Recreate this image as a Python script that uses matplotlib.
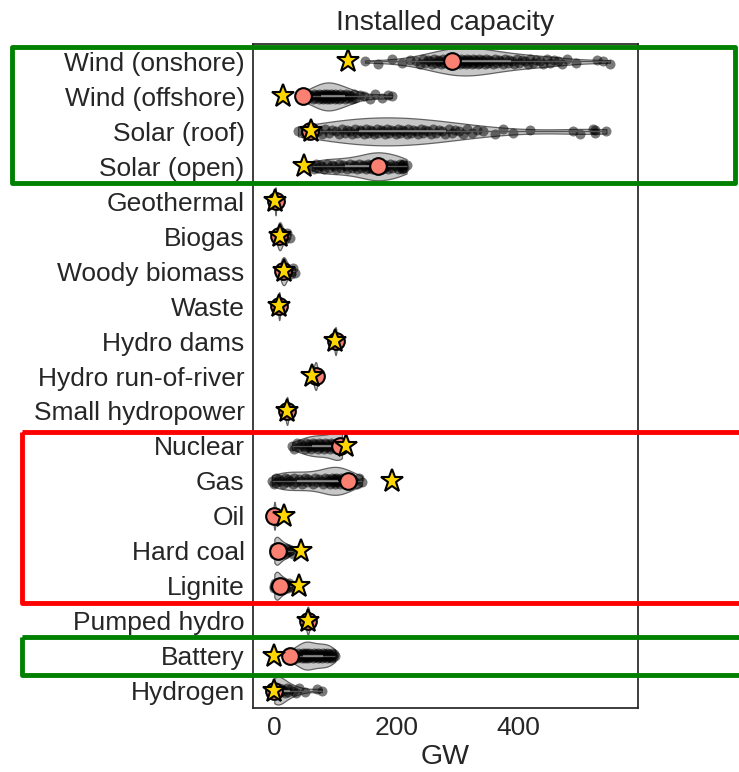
import numpy as np
import matplotlib
matplotlib.use('Agg')
import matplotlib.pyplot as plt
from matplotlib.patches import Rectangle

# ── data (GW) ────────────────────────────────────────────────────────────────
categories = ['Wind (onshore)', 'Wind (offshore)', 'Solar (roof)', 'Solar (open)',
              'Geothermal', 'Biogas', 'Woody biomass', 'Waste', 'Hydro dams',
              'Hydro run-of-river', 'Small hydropower', 'Nuclear', 'Gas', 'Oil',
              'Hard coal', 'Lignite', 'Pumped hydro', 'Battery', 'Hydrogen']

wind_onshore = [149, 170, 193, 210, 223, 232, 239, 244, 248, 252, 255, 259, 262, 265,
                268, 271, 274, 277, 279, 282, 284, 286, 288, 290, 292, 294, 296, 298,
                300, 302, 303, 305, 307, 309, 311, 313, 315, 317, 318, 320, 322, 324,
                326, 328, 330, 332, 334, 336, 338, 341, 343, 346, 348, 351, 353, 356,
                359, 362, 365, 369, 372, 376, 379, 383, 386, 390, 394, 398, 402, 407,
                411, 416, 420, 425, 430, 436, 441, 447, 452, 459, 466, 473, 480, 496,
                529, 539, 551]
wind_offshore = [45, 49, 52, 55, 58, 61, 63, 65, 67, 69, 71, 73, 74, 76, 77, 79, 80, 81,
                 82, 84, 85, 86, 87, 88, 89, 91, 92, 93, 94, 96, 97, 99, 100, 102, 103,
                 105, 106, 108, 110, 112, 114, 116, 118, 121, 123, 126, 128, 131, 133,
                 140, 148, 157, 166, 176, 187, 193]
solar_roof = [39, 50, 55, 62, 66, 72, 78, 84, 90, 95, 101, 106, 111, 116, 120, 124, 128,
              132, 136, 140, 143, 147, 150, 154, 157, 161, 164, 168, 171, 175, 178, 182,
              185, 189, 192, 196, 199, 203, 206, 210, 213, 217, 220, 224, 228, 232, 236,
              240, 244, 248, 252, 257, 261, 266, 270, 275, 280, 286, 291, 297, 303, 310,
              317, 325, 332, 343, 362, 375, 392, 420, 490, 502, 523, 526, 526, 545]
solar_open = [62, 65, 68, 72, 75, 78, 82, 86, 90, 94, 98, 102, 106, 110, 113, 117, 120,
              124, 127, 130, 133, 136, 139, 142, 145, 148, 150, 153, 155, 157, 159, 161,
              163, 165, 166, 168, 169, 171, 172, 174, 175, 177, 178, 180, 182, 185, 187,
              190, 193, 197, 200, 203, 206, 209, 209, 210, 210, 211, 213, 217]
geothermal = [1.0, 1.5, 2.0, 2.0, 2.5, 3.0]
biogas = [5, 6, 7, 8, 8, 9, 9, 10, 11, 12, 14, 17, 21, 26]
woody_biomass = [11, 12, 13, 14, 15, 15, 16, 17, 18, 20, 23, 27, 31, 34]
waste = [6, 7, 7, 8, 8, 8, 9, 9, 10]
hydro_dams = [98, 99, 100, 100, 101, 101, 102, 103]
hydro_ror = [64, 65, 66, 67, 68, 68, 69, 70, 71]
small_hydro = [18, 19, 20, 21, 21, 22, 23]
nuclear = [29, 33, 37, 41, 44, 47, 50, 52, 55, 57, 59, 61, 63, 65, 67, 69, 71, 73, 75,
           77, 79, 81, 83, 85, 87, 89, 91, 93, 95, 97, 99, 101, 103, 105, 106, 107, 108,
           109, 110, 110, 111, 111, 111, 111, 111, 111]
gas = [-4, -1, 2, 5, 8, 11, 14, 17, 20, 23, 26, 30, 33, 36, 40, 43, 46, 50, 53, 56, 60,
       63, 66, 70, 73, 76, 80, 83, 86, 88, 90, 92, 94, 96, 98, 99, 100, 101, 102, 103,
       105, 107, 109, 111, 113, 116, 118, 121, 124, 127, 131, 135, 139, 144]
oil = [-2, -1, 0, 0, 0, 1, 1, 2, 3]
hard_coal = [0, 0, 0, 1, 1, 2, 3, 4, 5, 6, 7, 9, 10, 12, 13, 15, 17, 19, 21, 24, 26, 31]
lignite = [0, 0, 1, 1, 2, 3, 4, 5, 6, 8, 9, 11, 13, 15, 17, 19, 22, 24, 29]
pumped_hydro = [52, 53, 54, 55, 55, 56, 57, 58]
battery = [23, 26, 28, 31, 33, 35, 37, 39, 41, 43, 44, 46, 47, 48, 49, 50, 51, 52, 53,
           54, 55, 56, 57, 59, 60, 62, 63, 65, 66, 68, 69, 71, 72, 74, 75, 77, 78, 80,
           81, 83, 84, 86, 87, 89, 90, 92, 93, 95, 96, 98, 100]
hydrogen = [0, 0, 0, 0, 1, 1, 2, 2, 3, 4, 5, 6, 8, 10, 12, 14, 17, 20, 23, 26, 30, 35,
            40, 51, 70, 78]

samples = [wind_onshore, wind_offshore, solar_roof, solar_open, geothermal, biogas,
           woody_biomass, waste, hydro_dams, hydro_ror, small_hydro, nuclear, gas, oil,
           hard_coal, lignite, pumped_hydro, battery, hydrogen]

circle_gw = [291, 47, 59, 171, 2, 8, 15, 8, 101, 68, 21, 108, 121, 0, 6, 9, 55, 26, 0]
star_gw = [121, 15, 60, 48, 1.6, 10, 16, 8, 100, 62, 20, 117, 193, 16, 43, 41, 55, 0, 0]

# highlight boxes: (top row edge, bottom row edge, left GW, right GW, colour)
boxes = [(-0.42, 3.47, -430, 756, 'green'),
         (10.61, 15.50, -415, 800, 'red'),
         (16.46, 17.57, -415, 800, 'green')]

# fixed strip offsets (row units) so the dots spread a little vertically
strip_offsets = np.array([0.0, 0.08, -0.08, 0.04, -0.04])

# ── plot ─────────────────────────────────────────────────────────────────────
plt.rcParams['font.family'] = ['Liberation Sans', 'DejaVu Sans']
txt = '#262626'

fig = plt.figure(figsize=(7.39, 7.72), dpi=100)
ax = fig.add_axes([253/739, 1 - 708/772, (638 - 253)/739, (708 - 44)/772])

pos = np.arange(len(categories))
vp = ax.violinplot(samples, positions=pos, orientation='horizontal', widths=0.8,
                   showextrema=False)
for body in vp['bodies']:
    body.set_facecolor('#bdbdbd')
    body.set_edgecolor('#4d4d4d')
    body.set_linewidth(0.9)
    body.set_alpha(0.85)

for i, vals in enumerate(samples):
    dy = np.resize(strip_offsets, len(vals))
    ax.scatter(vals, i + dy, s=52, c='k', alpha=0.52, linewidths=0, zorder=3)
    q1, q3 = np.percentile(vals, [25, 75])
    ax.hlines(i, min(vals), max(vals), color='#555555', lw=1.0, zorder=4)
    ax.hlines(i, q1, q3, color='#a0a0a0', lw=1.6, alpha=0.7, zorder=4)

ax.plot(circle_gw, pos, 'o', ms=12, mfc='#fa8072', mec='k', mew=1.5, ls='none', zorder=5)
ax.plot(star_gw, pos, '*', ms=17, mfc='#ffd700', mec='k', mew=1.5, ls='none', zorder=6)

for y0, y1, x0, x1, col in boxes:
    ax.add_patch(Rectangle((x0, y0), x1 - x0, y1 - y0, fill=False, edgecolor=col,
                           lw=3.5, clip_on=False, zorder=10, joinstyle='round'))

ax.set_xlim(-35, 597)
ax.set_ylim(len(categories) - 0.5, -0.5)
ax.set_yticks(pos)
ax.set_yticklabels(categories)
ax.set_xticks([0, 200, 400])
ax.tick_params(axis='both', length=0, labelsize=19, colors=txt)
ax.tick_params(axis='y', pad=6)
ax.tick_params(axis='x', pad=6)
for sp in ax.spines.values():
    sp.set_color(txt)
    sp.set_linewidth(1.25)
ax.set_title('Installed capacity', fontsize=20.5, color=txt, pad=10)
ax.set_xlabel('GW', fontsize=20.5, color=txt, labelpad=3)

fig.savefig('out.png', dpi=100)
plt.close(fig)
